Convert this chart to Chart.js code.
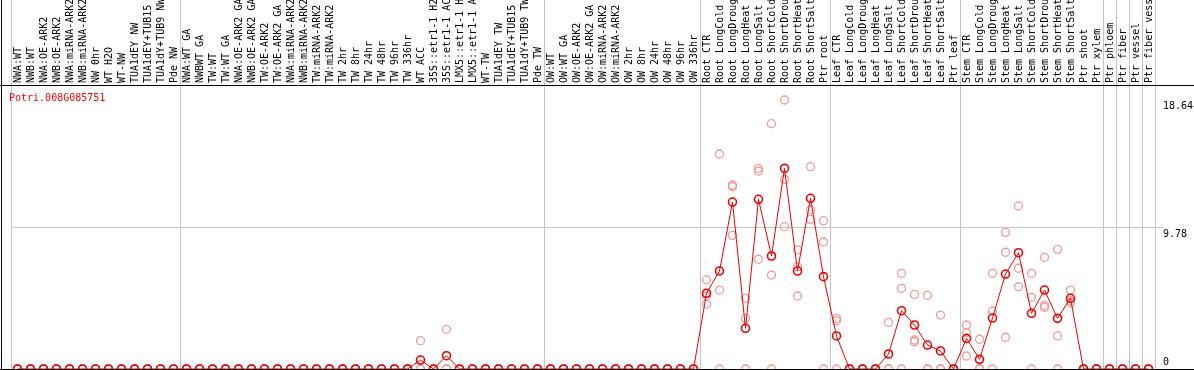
<!DOCTYPE html>
<html>
<head>
<meta charset="utf-8">
<script src="https://cdn.jsdelivr.net/npm/chart.js@4.4.0/dist/chart.umd.min.js"></script>
<style>
    html, body { margin: 0; padding: 0; background: #fff; }
</style>
</head>
<body>
<canvas id="expr01" width="1194" height="370"></canvas>
<script>
// gene shown in the panel
const geneId = 'Potri.008G085751';

// sample labels, one line per tissue group
const sampleLabels = [
    'NWA:WT', 'NWB:WT', 'NWA:OE-ARK2', 'NWB:OE-ARK2', 'NWA:miRNA-ARK2', 'NWB:miRNA-ARK2', 'NW 0hr', 'WT H2O', 'WT-NW', 'TUA1dEY NW', 'TUA1dEY+TUB15 NW', 'TUA1dY+TUB9 NW', 'Pde NW',
    'NWA:WT GA', 'NWBWT GA', 'TW:WT', 'TW:WT GA', 'NWA:OE-ARK2 GA', 'NWB:OE-ARK2 GA', 'TW:OE-ARK2', 'TW:OE-ARK2 GA', 'NWA:miRNA-ARK2', 'NWB:miRNA-ARK2', 'TW:miRNA-ARK2', 'TW:miRNA-ARK2', 'TW 2hr', 'TW 8hr', 'TW 24hr', 'TW 48hr', 'TW 96hr', 'TW 336hr', 'WT ACC', '35S::etr1-1 H2O', '35S::etr1-1 ACC', 'LMX5::etr1-1 H2O', 'LMX5::etr1-1 ACC', 'WT-TW', 'TUA1dEY TW', 'TUA1dEY+TUB15 TW', 'TUA1dY+TUB9 TW', 'Pde TW',
    'OW:WT', 'OW:WT GA', 'OW:OE-ARK2', 'OW:OE-ARK2 GA', 'OW:miRNA-ARK2', 'OW:miRNA-ARK2', 'OW 2hr', 'OW 8hr', 'OW 24hr', 'OW 48hr', 'OW 96hr', 'OW 336hr',
    'Root CTR', 'Root LongCold', 'Root LongDrought', 'Root LongHeat', 'Root LongSalt', 'Root ShortCold', 'Root ShortDrought', 'Root ShortHeat', 'Root ShortSalt', 'Ptr root',
    'Leaf CTR', 'Leaf LongCold', 'Leaf LongDrought', 'Leaf LongHeat', 'Leaf LongSalt', 'Leaf ShortCold', 'Leaf ShortDrought', 'Leaf ShortHeat', 'Leaf ShortSalt', 'Ptr leaf',
    'Stem CTR', 'Stem LongCold', 'Stem LongDrought', 'Stem LongHeat', 'Stem LongSalt', 'Stem ShortCold', 'Stem ShortDrought', 'Stem ShortHeat', 'Stem ShortSalt', 'Ptr shoot',
    'Ptr xylem', 'Ptr phloem', 'Ptr fiber', 'Ptr vessel', 'Ptr fiber vessel',
];

// index of the first sample after each separator line
const groupStarts = [0, 13, 41, 53, 63, 73, 84, 85, 86, 87];

// mean expression
const meanExpr = [
    0, 0, 0, 0, 0, 0, 0, 0, 0, 0, 0, 0, 0,
    0, 0, 0, 0, 0, 0, 0, 0, 0, 0, 0, 0, 0, 0, 0, 0, 0, 0, 0.62, 0, 0.92, 0, 0, 0, 0, 0, 0, 0,
    0, 0, 0, 0, 0, 0, 0, 0, 0, 0, 0, 0,
    5.25, 6.79, 11.57, 2.82, 11.76, 7.83, 13.9, 6.79, 11.83, 6.4,
    2.29, 0, 0, 0, 1.04, 4.04, 3.05, 1.66, 1.25, 0,
    2.12, 0.67, 3.53, 6.58, 8.06, 3.86, 5.47, 3.51, 4.9, 0,
    0, 0, 0, 0, 0,
];

// replicates
const rep1 = [
    0, 0, 0, 0, 0, 0, 0, 0, 0, 0, 0, 0, 0,
    0, 0, 0, 0, 0, 0, 0, 0, 0, 0, 0, 0, 0, 0, 0, 0, 0, 0, 1.96, 0, 2.75, 0, 0, 0, 0, 0, 0, 0,
    0, 0, 0, 0, 0, 0, 0, 0, 0, 0, 0, 0,
    6.17, 14.9, 12.75, 4.9, 13.9, 17.0, 18.64, 8.25, 14.02, 10.28,
    3.51, 0, 0, 0, 3.23, 6.63, 5.17, 5.1, 3.74, 0,
    3.05, 2.06, 6.63, 9.47, 11.3, 6.63, 7.74, 8.29, 5.47, 0,
    0, 0, 0, 0, 0,
];
const rep2 = [
    0, 0, 0, 0, 0, 0, 0, 0, 0, 0, 0, 0, 0,
    0, 0, 0, 0, 0, 0, 0, 0, 0, 0, 0, 0, 0, 0, 0, 0, 0, 0, 0, 0, 0, 0, 0, 0, 0, 0, 0, 0,
    0, 0, 0, 0, 0, 0, 0, 0, 0, 0, 0, 0,
    5.06, 5.47, 12.64, 3.51, 13.72, 6.51, 13.14, 7.09, 11.02, 8.8,
    3.35, 0, 0, 0, 0, 5.59, 2.01, 0, 0, 0,
    2.52, 0, 4.02, 8.09, 6.98, 4.97, 4.4, 2.29, 4.73, 0,
    0, 0, 0, 0, 0,
];
const rep3 = [
    0, 0, 0, 0, 0, 0, 0, 0, 0, 0, 0, 0, 0,
    0, 0, 0, 0, 0, 0, 0, 0, 0, 0, 0, 0, 0, 0, 0, 0, 0, 0, 0, 0, 0, 0, 0, 0, 0, 0, 0, 0,
    0, 0, 0, 0, 0, 0, 0, 0, 0, 0, 0, 0,
    4.5, 0, 9.26, 0, 7.6, 0, 9.86, 5.06, 10.37, 0,
    0, 0, 0, 0, 0, 0, 1.89, 0, 0, 0,
    0.9, 0, 0, 2.2, 5.7, 0, 4.27, 0, 4.59, 0,
    0, 0, 0, 0, 0,
];

// value axis
const yTicks = [0, 9.78, 18.64];
const yMax = 19.68;

const X_FONT = { family: 'DejaVu Sans Mono', size: 10, lineHeight: 1.2 };
const Y_FONT = { family: 'DejaVu Sans Mono', size: 10, lineHeight: 1.3 };
const GRID = '#c4c4c4';
const NONE = 'rgba(0,0,0,0)';
const MEAN_COLOR = '#ee0000';
const REP_COLOR = '#ee9a9a';

function groupLineColor(context) {
    // offset grid: last line (right edge) has no tick index
    if (context.index === undefined || groupStarts.includes(context.index)) {
        return GRID;
    }
    return NONE;
}

function valueLineColor(context) {
    if (!context.tick) return NONE;
    return context.tick.value === 9.78 ? GRID : NONE;
}

// frame lines + gene name
const frameLines = {
    id: 'frameLines',
    afterDraw(chart) {
        const { ctx, chartArea, width, height } = chart;
        const y0 = Math.round(chart.scales.y.getPixelForValue(0)) + 0.5;
        ctx.save();
        ctx.strokeStyle = '#000';
        ctx.lineWidth = 1;
        ctx.beginPath();
        ctx.moveTo(1.5, 0);
        ctx.lineTo(1.5, height);
        ctx.moveTo(0, chartArea.top + 0.5);
        ctx.lineTo(width, chartArea.top + 0.5);
        ctx.moveTo(0, y0);
        ctx.lineTo(width, y0);
        ctx.stroke();

        ctx.fillStyle = '#ff0000';
        ctx.font = '10px "DejaVu Sans Mono"';
        ctx.textBaseline = 'alphabetic';
        ctx.textAlign = 'left';
        ctx.fillText(geneId, chartArea.left - 2, chartArea.top + 16);
        ctx.restore();
    },
};

function repDataset(label, values) {
    return {
        label,
        data: values,
        showLine: false,
        borderColor: REP_COLOR,
        pointBorderColor: REP_COLOR,
        pointBackgroundColor: NONE,
        pointRadius: 4,
        pointBorderWidth: 1.3,
        order: 1,
        clip: false,
    };
}

const ctx = document.getElementById('expr01').getContext('2d');
const chart = new Chart(ctx, {
    type: 'line',
    data: {
        labels: sampleLabels,
        datasets: [
            {
                label: 'mean',
                data: meanExpr,
                borderColor: MEAN_COLOR,
                borderWidth: 1,
                pointBorderColor: MEAN_COLOR,
                pointBackgroundColor: NONE,
                pointRadius: 4,
                pointBorderWidth: 1.6,
                tension: 0,
                order: 0,
                clip: false,
            },
            repDataset('rep1', rep1),
            repDataset('rep2', rep2),
            repDataset('rep3', rep3),
        ],
    },
    options: {
        responsive: false,
        animation: false,
        events: [],
        layout: {
            autoPadding: false,
            padding: { left: 11, top: 0, right: 0, bottom: 1 },
        },
        plugins: {
            legend: { display: false },
            title: { display: false },
            tooltip: { enabled: false },
        },
        scales: {
            x: {
                type: 'category',
                position: 'top',
                offset: true,
                border: { display: false },
                grid: {
                    offset: true,
                    color: groupLineColor,
                    tickColor: groupLineColor,
                    drawTicks: true,
                    tickLength: 85,
                    lineWidth: 1,
                },
                ticks: {
                    autoSkip: false,
                    minRotation: 90,
                    maxRotation: 90,
                    padding: -83,
                    // rotated top labels are drawn one line-height to the left
                    labelOffset: 13,
                    color: '#000',
                    font: X_FONT,
                },
                afterFit(scaleInstance) {
                    scaleInstance.height = 85;
                    scaleInstance.paddingLeft = 0;
                    scaleInstance.paddingRight = 0;
                },
            },
            y: {
                type: 'linear',
                position: 'right',
                min: 0,
                max: yMax,
                border: { display: false },
                grid: {
                    color: valueLineColor,
                    tickColor: valueLineColor,
                    drawTicks: true,
                    tickLength: 8,
                },
                afterBuildTicks(axis) {
                    axis.ticks = yTicks.map(v => ({ value: v }));
                },
                ticks: {
                    padding: 0,
                    color: '#000',
                    font: Y_FONT,
                    callback(value) {
                        // 0 sits above its line, the others below
                        return value === 0 ? [String(value), ''] : ['', String(value)];
                    },
                },
                afterFit(scaleInstance) {
                    scaleInstance.width = 39;
                    scaleInstance.paddingTop = 0;
                    scaleInstance.paddingBottom = 0;
                },
            },
        },
    },
    plugins: [frameLines],
});
</script>
</body>
</html>
